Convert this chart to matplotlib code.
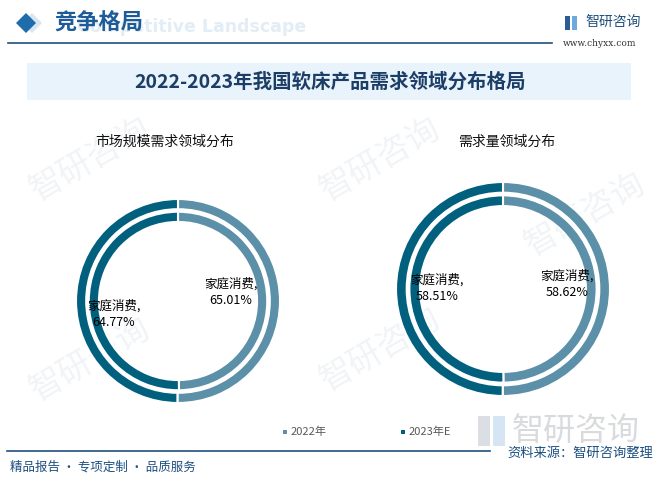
import matplotlib
matplotlib.use('Agg')
import matplotlib.pyplot as plt
from matplotlib.patches import Rectangle, Polygon

plt.rcParams['font.family'] = ['Noto Sans CJK SC', 'DejaVu Sans']

W, H = 662, 482

# 数据
years = ['2022年', '2023年E']
colors = ['#5b90a8', '#02607f']
panels = ['市场规模需求领域分布', '需求量领域分布']
home_share = [[65.01, 64.77], [58.62, 58.51]]       # 家庭消费 外圈
other_share = [[34.99, 35.23], [41.38, 41.49]]      # 其他 内圈
label_name = '家庭消费'

# 画布坐标（像素）-> figure 坐标
def fx(x):
    return x / W

def fy(y):
    return 1 - y / H

fig = plt.figure(figsize=(W / 100, H / 100), dpi=100)
fig.patch.set_facecolor('white')

# 水印（放在最底层）
for (wx, wy) in [(90, 160), (380, 160), (90, 360), (380, 350), (585, 215)]:
    fig.text(fx(wx), fy(wy), '智研咨询', fontsize=24, color='#f1f4f7',
             rotation=30, ha='center', va='center', zorder=-5)

# 顶部标题栏
fig.text(fx(77), fy(27), 'Competitive Landscape', fontsize=12.5, fontweight='bold',
         color='#e3edf6', family='DejaVu Sans', ha='left', va='center', zorder=1)
fig.patches.append(Polygon([[fx(22), fy(23)], [fx(32), fy(13)], [fx(42), fy(23)], [fx(32), fy(33)]],
                           closed=True, transform=fig.transFigure, facecolor='#d6e6f3',
                           edgecolor='none'))
fig.patches.append(Polygon([[fx(16), fy(23)], [fx(26), fy(13)], [fx(36), fy(23)], [fx(26), fy(33)]],
                           closed=True, transform=fig.transFigure, facecolor='#1f6cab',
                           edgecolor='none'))
fig.text(fx(54), fy(23), '竞争格局', fontsize=16, fontweight='bold', color='#1d5b99',
         ha='left', va='center', zorder=2)
fig.add_artist(plt.Line2D([fx(8), fx(552)], [fy(43), fy(43)], color='#1f4f7d', lw=1.2))

# 右上角 logo
fig.patches.append(Rectangle((fx(565), fy(30)), 5 / W, 14 / H, transform=fig.transFigure,
                             facecolor='#2a5d94', edgecolor='none'))
fig.patches.append(Rectangle((fx(572), fy(30)), 5 / W, 14 / H, transform=fig.transFigure,
                             facecolor='#6fa8dc', edgecolor='none'))
fig.text(fx(585), fy(22), '智研咨询', fontsize=10, color='#1f4f7d', ha='left', va='center')
fig.text(fx(563), fy(43), 'www.chyxx.com', fontsize=6.5, color='#333333',
         family='DejaVu Serif', ha='left', va='center')

# 主标题
fig.patches.append(Rectangle((fx(27), fy(100)), (631 - 27) / W, 37 / H, transform=fig.transFigure,
                             facecolor='#e8f3fb', edgecolor='none', zorder=1))
fig.text(fx(330), fy(82), '2022-2023年我国软床产品需求领域分布格局', fontsize=14,
         fontweight='bold', color='#1c3d66', ha='center', va='center', zorder=2)

# 两个环形图
centers = [(178, 301, 102), (503, 289, 107)]
title_x = [165, 507]
label_pos = [[(231, 292), (114, 314)], [(567, 284), (437, 288)]]

for i in range(2):
    cx, cy, r = centers[i]
    ax = fig.add_axes([fx(cx - r), fy(cy + r), 2 * r / W, 2 * r / H])
    ax.pie(home_share[i], radius=1.0, colors=colors, startangle=90, counterclock=False,
           wedgeprops=dict(width=0.1, edgecolor='white', linewidth=1.5))
    ax.pie(other_share[i], radius=0.875, colors=colors, startangle=90, counterclock=False,
           wedgeprops=dict(width=0.1, edgecolor='white', linewidth=1.5))
    ax.set_xlim(-1, 1)
    ax.set_ylim(-1, 1)
    ax.set_aspect('equal')
    ax.axis('off')

    fig.text(fx(title_x[i]), fy(142), panels[i], fontsize=10, color='#111111',
             ha='center', va='center')
    for j in range(2):
        lx, ly = label_pos[i][j]
        fig.text(fx(lx), fy(ly), f'{label_name},\n{home_share[i][j]:.2f}%', fontsize=9,
                 color='#000000', ha='center', va='center', linespacing=1.4)

# 图例
leg_x = [283, 401]
for k in range(2):
    fig.patches.append(Rectangle((fx(leg_x[k]), fy(434)), 4 / W, 4 / H, transform=fig.transFigure,
                                 facecolor=colors[k], edgecolor='none'))
    fig.text(fx(leg_x[k] + 8), fy(432), years[k], fontsize=8, color='#595959',
             ha='left', va='center')

# 底部
fig.patches.append(Rectangle((fx(478), fy(446)), 12 / W, 30 / H, transform=fig.transFigure,
                             facecolor='#c4cad2', edgecolor='none', alpha=0.6))
fig.patches.append(Rectangle((fx(493), fy(446)), 12 / W, 30 / H, transform=fig.transFigure,
                             facecolor='#bcd4ec', edgecolor='none', alpha=0.6))
fig.text(fx(512), fy(431), '智研咨询', fontsize=23, color='#cfd1d4', alpha=0.8,
         ha='left', va='center')
fig.add_artist(plt.Line2D([fx(7), fx(490)], [fy(451), fy(451)], color='#1f4f7d', lw=1.2))
fig.text(fx(653), fy(453), '资料来源：智研咨询整理', fontsize=9.5, color='#1b4f80',
         ha='right', va='center')
fig.text(fx(10), fy(467), '精品报告 · 专项定制 · 品质服务', fontsize=9, color='#1b4f80',
         ha='left', va='center')

fig.savefig('out.png', dpi=100)
